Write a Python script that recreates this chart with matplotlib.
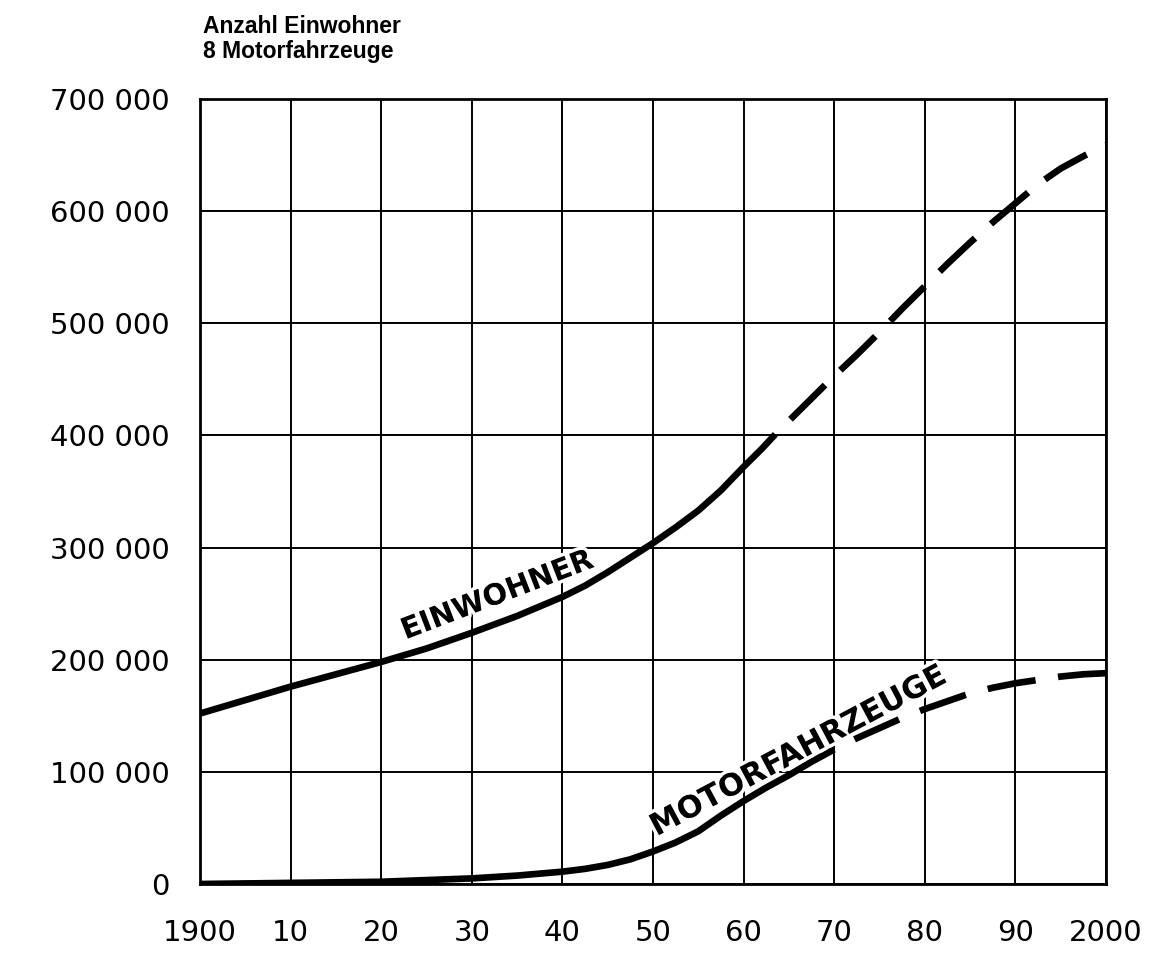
import numpy as np
import matplotlib
matplotlib.use("Agg")
import matplotlib.pyplot as plt
import matplotlib.patheffects as pe
from matplotlib.ticker import FuncFormatter

# Einwohner (population)
einw_years = [1900, 1905, 1910, 1915, 1920, 1925, 1930, 1935, 1940, 1942.5,
              1945, 1947.5, 1950, 1952.5, 1955, 1957.5, 1960, 1962, 1963.5]
einw_vals = [152000, 164000, 176000, 187000, 198000, 210000, 224000, 239000,
             256000, 266000, 278000, 291000, 304000, 318000, 333000, 351000,
             372000, 388000, 401000]
# projection (dashed)
einw_proj_years = [1963.5, 1965, 1967.5, 1970, 1972.5, 1975, 1977.5, 1980,
                   1982.5, 1985, 1987.5, 1990, 1992.5, 1995, 1997.5, 2000]
einw_proj_vals = [401000, 413000, 433000, 453000, 472000, 492000, 513000,
                  533000, 553000, 572000, 590000, 607000, 624000, 638000,
                  649000, 659000]

# Motorfahrzeuge (motor vehicles)
motor_years = [1900, 1905, 1910, 1915, 1920, 1925, 1930, 1935, 1940, 1942.5,
               1945, 1947.5, 1950, 1952.5, 1955, 1957.5, 1960, 1962.5, 1965,
               1967.5, 1970]
motor_vals = [0, 500, 1000, 1500, 2000, 3500, 5000, 7500, 11000, 13500,
              17000, 22000, 29000, 37000, 47000, 61000, 74000, 86000, 97000,
              109000, 120000]
motor_proj_years = [1970, 1972.5, 1975, 1977.5, 1980, 1982.5, 1985, 1987.5,
                    1990, 1992.5, 1995, 1997.5, 2000]
motor_proj_vals = [120000, 130000, 139000, 148000, 156000, 163000, 170000,
                   175000, 179000, 182000, 185000, 187000, 188000]

x_ticks = list(range(1900, 2001, 10))
x_labels = ["1900", "10", "20", "30", "40", "50", "60", "70", "80", "90", "2000"]
y_ticks = list(range(0, 700001, 100000))


def fmt_thousands(v, pos):
    return "{:,}".format(int(v)).replace(",", " ")


fig = plt.figure(figsize=(11.61, 9.56), dpi=100)
ax = fig.add_axes([200 / 1161, 1 - 884 / 956, 906 / 1161, 785 / 956])

lw = 4.8
ax.plot(einw_years, einw_vals, color="black", lw=lw, solid_capstyle="butt",
        solid_joinstyle="round", zorder=3)
ax.plot(einw_proj_years, einw_proj_vals, color="black", lw=lw,
        linestyle=(7.3, (7.3, 3.2)), dash_capstyle="butt", zorder=3)
ax.plot(motor_years, motor_vals, color="black", lw=lw, solid_capstyle="butt",
        solid_joinstyle="round", zorder=3)
ax.plot(motor_proj_years, motor_proj_vals, color="black", lw=lw,
        linestyle=(7.3, (7.3, 3.4)), dash_capstyle="butt", zorder=3)

ax.set_xlim(1900, 2000)
ax.set_ylim(0, 700000)
ax.set_xticks(x_ticks)
ax.set_xticklabels(x_labels)
ax.set_yticks(y_ticks)
ax.yaxis.set_major_formatter(FuncFormatter(fmt_thousands))
ax.tick_params(length=0, labelsize=21)
ax.tick_params(axis="y", pad=22)
ax.tick_params(axis="x", pad=25)
ax.grid(True, color="black", lw=1.4)
ax.set_axisbelow(True)
for s in ax.spines.values():
    s.set_linewidth(2.0)

halo = [pe.withStroke(linewidth=5, foreground="white")]
ax.text(1932.8, 257000, "EINWOHNER", fontsize=21, fontweight="bold",
        rotation=21, rotation_mode="anchor", ha="center", va="center",
        path_effects=halo, zorder=4)
ax.text(1966.0, 118000, "MOTORFAHRZEUGE", fontsize=22, fontweight="bold",
        rotation=28, rotation_mode="anchor", ha="center", va="center",
        path_effects=halo, zorder=4)

fig.text(203 / 1161, 1 - 33 / 956, "Anzahl Einwohner", fontsize=16.5,
         fontweight="bold", family="Liberation Sans", va="baseline")
fig.text(203 / 1161, 1 - 58 / 956, "8 Motorfahrzeuge", fontsize=16.5,
         fontweight="bold", family="Liberation Sans", va="baseline")

fig.savefig("out.png", dpi=100, facecolor="white")
